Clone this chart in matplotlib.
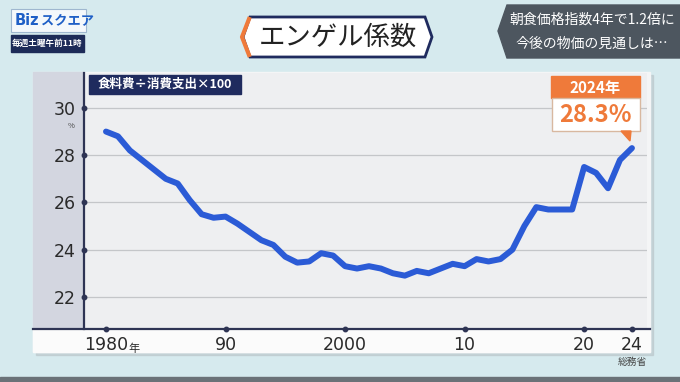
""" engel.py -- エンゲル係数の推移 (総務省) """
import matplotlib.pyplot as plt
from matplotlib.patches import Polygon, Rectangle

plt.rcParams['font.family'] = ['Noto Sans CJK JP', 'DejaVu Sans']

# 年とエンゲル係数(%)
years = list(range(1980, 2025))
engel = [29.0, 28.8, 28.2, 27.8, 27.4, 27.0, 26.8, 26.1, 25.5, 25.35,
         25.4, 25.1, 24.75, 24.4, 24.2, 23.7, 23.45, 23.5, 23.85, 23.75,
         23.3, 23.2, 23.3, 23.2, 23.0, 22.9, 23.1, 23.0, 23.2, 23.4,
         23.3, 23.6, 23.5, 23.6, 24.0, 25.0, 25.8, 25.7, 25.7, 25.7,
         27.5, 27.25, 26.6, 27.8, 28.3]
y_ticks = [22, 24, 26, 28, 30]
x_ticks = [1980, 1990, 2000, 2010, 2020, 2024]
x_labels = ['1980', '90', '2000', '10', '20', '24']

W, H = 680, 382
NAVY = '#1f2b5e'
ORANGE = '#ef7a3a'
BLUE = '#2b5bd6'


def fbox(x0, y0, x1, y1):
    """ пиксели -> координаты фигуры """
    return [x0 / W, 1 - y1 / H, (x1 - x0) / W, (y1 - y0) / H]


fig = plt.figure(figsize=(W / 100, H / 100), dpi=100)

# фон и подложка
bg = fig.add_axes([0, 0, 1, 1], zorder=0)
bg.set_xlim(0, W)
bg.set_ylim(H, 0)
bg.axis('off')
bg.add_patch(Rectangle((0, 0), W, H, color='#d6eaee'))
bg.add_patch(Rectangle((0, 377), W, 5, color='#6b7278'))
bg.add_patch(Rectangle((36, 75), 617, 280, color='#b9c4c8', alpha=0.6))
bg.add_patch(Rectangle((33, 72), 617, 280, color='#f4f5f6'))
bg.add_patch(Rectangle((33, 72), 51, 257, color='#d3d6e0'))
bg.add_patch(Rectangle((33, 329), 617, 23, color='#fbfbfb'))

# график
ax = fig.add_axes(fbox(84, 73, 647, 329), zorder=1)
ax.set_facecolor('#eeeff1')
x_lo, x_hi = 1978.16, 2025.26
y_lo, y_hi = 20.64, 31.48
ax.set_xlim(x_lo, x_hi)
ax.set_ylim(y_lo, y_hi)
for s in ['top', 'right', 'bottom']:
    ax.spines[s].set_visible(False)
ax.spines['left'].set_color('#2e3454')
ax.spines['left'].set_linewidth(1.6)
for yt in y_ticks:
    ax.axhline(yt, color='#c4c6c9', lw=0.9, zorder=1)
ax.plot(years, engel, color=BLUE, lw=4.3, solid_capstyle='round',
        solid_joinstyle='round', zorder=3)
ax.plot([x_lo] * len(y_ticks), y_ticks, 'o', ms=3.2, color='#2e3454',
        clip_on=False, zorder=4)
ax.plot(x_ticks, [y_lo] * len(x_ticks), 'o', ms=3.2, color='#2e3454',
        clip_on=False, zorder=4)
ax.set_yticks(y_ticks)
ax.set_yticklabels([str(v) for v in y_ticks], fontsize=12.5, color='#2a2a2a',
                   family=['DejaVu Sans'])
ax.set_xticks(x_ticks)
ax.set_xticklabels(x_labels, fontsize=12.5, color='#2a2a2a',
                   family=['DejaVu Sans'])
ax.tick_params(axis='both', length=0)
ax.tick_params(axis='y', pad=6)
ax.tick_params(axis='x', pad=5)
ax.get_xticklabels()[0].set_x(1979.5)
ax.annotate('年', xy=(1980, y_lo), xytext=(16, -14), textcoords='offset points',
            fontsize=8, color='#2a2a2a', va='center')
ax.annotate('%', xy=(x_lo, 30), xytext=(-9, -13), textcoords='offset points',
            fontsize=5.5, color='#444', ha='center', va='center')

# верхний слой: надписи
top = fig.add_axes([0, 0, 1, 1], zorder=2)
top.set_xlim(0, W)
top.set_ylim(H, 0)
top.axis('off')
top.plot([33, 650], [329, 329], color='#2e3454', lw=1.6)

# подпись формулы
top.add_patch(Rectangle((89, 75), 152, 19, color=NAVY))
top.text(165, 84.5, '食料費÷消費支出×100', color='white', fontsize=9,
         fontweight='bold', ha='center', va='center')

# выноска 2024
top.add_patch(Rectangle((551, 76), 89, 22, color=ORANGE))
top.add_patch(Rectangle((551.5, 98), 88, 33, facecolor='white',
                        edgecolor='#d8b8a0', lw=1))
top.text(595.5, 87.5, '2024年', color='white', fontsize=11, fontweight='bold',
         ha='center', va='center')
top.text(595.5, 115, '28.3%', color=ORANGE, fontsize=17, fontweight='bold',
         ha='center', va='center')
top.add_patch(Polygon([(621, 131), (631, 131), (630, 141)], color=ORANGE))

top.text(647, 362, '総務省', color='#444', fontsize=7, ha='right', va='center')

# шапка: логотип
top.add_patch(Rectangle((11, 9), 75, 23, facecolor='#f4f8fb',
                        edgecolor='#9fb7cf', lw=0.8))
top.text(15, 20.5, 'Biz', color='#1f5fc6', fontsize=10.5, fontweight='bold',
         va='center', family=['DejaVu Sans'])
top.text(41, 20.5, 'スクエア', color='#1f5fc6', fontsize=9.5, fontweight='bold',
         va='center')
top.add_patch(Rectangle((11, 35), 73, 17, color='#1d2b58'))
top.text(47.5, 43.5, '毎週土曜午前11時', color='white', fontsize=6.2,
         fontweight='bold', ha='center', va='center')

# шапка: заголовок
top.add_patch(Polygon([(243, 37), (250, 17), (425, 17), (432, 37),
                       (425, 57), (250, 57)],
                      facecolor='white', edgecolor=NAVY, lw=2))
top.plot([249, 242, 249], [19, 37, 55], color=ORANGE, lw=3)
top.text(338, 37, 'エンゲル係数', color='#222', fontsize=19, ha='center',
         va='center')

# шапка: правая плашка
top.add_patch(Polygon([(498, 31), (507, 5), (680, 5), (680, 58), (507, 58)],
                      color='#4d565f'))
top.text(592, 20, '朝食価格指数4年で1.2倍に', color='white', fontsize=10,
         ha='center', va='center')
top.text(592, 44, '今後の物価の見通しは…', color='white', fontsize=10,
         ha='center', va='center')

fig.savefig('out.png', dpi=100)
